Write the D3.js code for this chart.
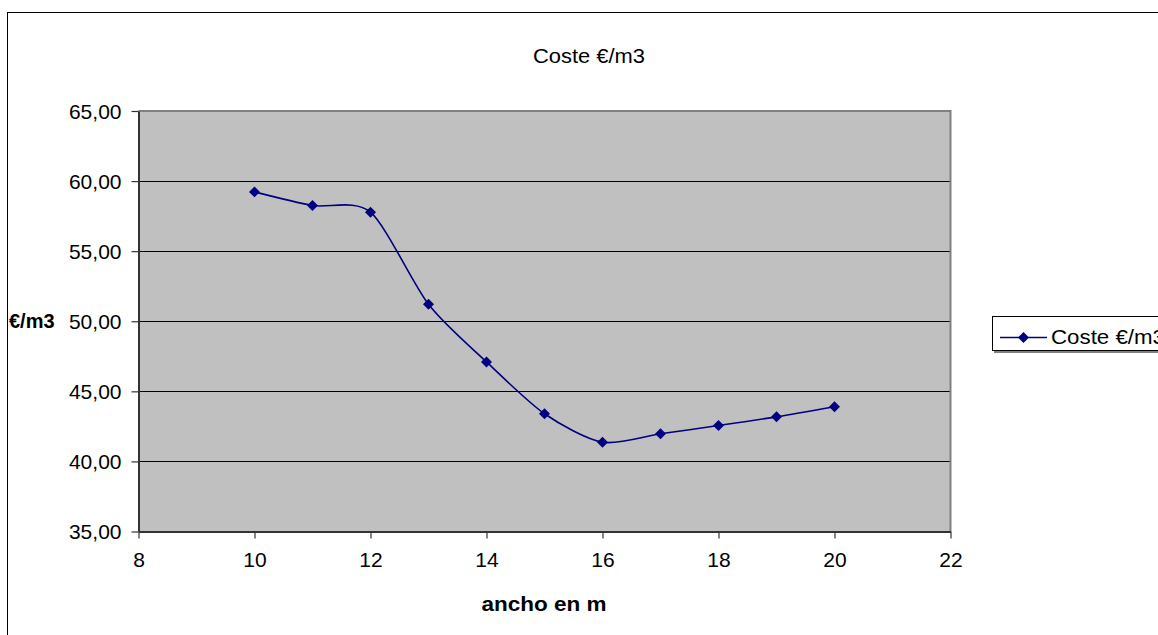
<!DOCTYPE html>
<html><head><meta charset="utf-8">
<script src="https://cdn.jsdelivr.net/npm/d3@7"></script>
<style>
html,body{margin:0;padding:0;background:#fff;overflow:hidden}
text{font-family:"Liberation Sans",Arial,sans-serif}
</style></head>
<body><svg id="c" width="1158" height="635"></svg>
<script>
const xValues = [10, 11, 12, 13, 14, 15, 16, 17, 18, 19, 20];
const costValues = [59.23, 58.26, 57.78, 51.21, 47.10, 43.40, 41.37, 41.97, 42.56, 43.18, 43.90];
const xTicks = [8, 10, 12, 14, 16, 18, 20, 22];
const yTicks = [35, 40, 45, 50, 55, 60, 65];
const chartTitle = "Coste €/m3";
const seriesName = "Coste €/m3";
const xTitle = "ancho en m";
const yTitle = "€/m3";

const svg = d3.select("#c");
const L = 138.5, R = 950.5, T = 111, B = 531.5;
const x = d3.scaleLinear().domain([8, 22]).range([L, R]);
const y = d3.scaleLinear().domain([35, 65]).range([B, T]);
const fmt = v => v.toFixed(2).replace(".", ",");

// outer border
svg.append("rect").attr("x", 7.5).attr("y", 12.5).attr("width", 1170).attr("height", 640)
  .attr("fill", "#fff").attr("stroke", "#000").attr("stroke-width", 1);

// title
svg.append("text").attr("x", 589).attr("y", 63).attr("text-anchor", "middle")
  .attr("font-size", 20).attr("textLength", 112).attr("lengthAdjust", "spacingAndGlyphs").text(chartTitle);

// plot bg
svg.append("rect").attr("x", L).attr("y", T).attr("width", R - L).attr("height", B - T).attr("fill", "#c0c0c0");

// gridlines
svg.append("g").selectAll("line").data(yTicks.filter(d => d > 35 && d < 65)).join("line")
  .attr("x1", L).attr("x2", R).attr("y1", d => Math.round(y(d)) + 0.5).attr("y2", d => Math.round(y(d)) + 0.5)
  .attr("stroke", "#000").attr("stroke-width", 1);

// plot border top/right
svg.append("path").attr("d", `M${L},${T}H${R}V${B}`).attr("fill", "none").attr("stroke", "#808080").attr("stroke-width", 2);

// axes
const yAxis = d3.axisLeft(y).tickValues(yTicks).tickFormat(fmt).tickSize(7).tickSizeOuter(0).tickPadding(10);
const gy = svg.append("g").attr("transform", `translate(${L},0)`).call(yAxis);
const xAxis = d3.axisBottom(x).tickValues(xTicks).tickFormat(d3.format("d")).tickSize(7).tickSizeOuter(0).tickPadding(14);
const gx = svg.append("g").attr("transform", `translate(0,${B})`).call(xAxis);
[gx, gy].forEach(g => {
  g.select(".domain").attr("stroke", "#333").attr("stroke-width", 2);
  g.selectAll(".tick line").attr("stroke", "#333").attr("stroke-width", 1.2);
  g.selectAll("text").attr("font-size", 21).attr("fill", "#000").attr("font-family", "Liberation Sans, Arial, sans-serif");
});
gx.selectAll("text").attr("dy", "0.71em");
gy.selectAll("text").attr("dy", "0.35em");

// axis titles
svg.append("text").attr("x", 9).attr("y", 328).attr("font-size", 20).attr("font-weight", "bold").text(yTitle);
svg.append("text").attr("x", 544).attr("y", 611).attr("text-anchor", "middle").attr("font-size", 21).attr("font-weight", "bold")
  .attr("textLength", 125).attr("lengthAdjust", "spacingAndGlyphs").text(xTitle);

// series
const pts = xValues.map((d, i) => [d, costValues[i]]);
const line = d3.line().x(d => x(d[0])).y(d => y(d[1])).curve(d3.curveCardinal.tension(0.2));
svg.append("path").datum(pts).attr("d", line).attr("fill", "none").attr("stroke", "#000080").attr("stroke-width", 1.6);
svg.append("g").selectAll("path").data(pts).join("path")
  .attr("d", d3.symbol().type(d3.symbolSquare).size(60)).attr("transform", d => `translate(${x(d[0])},${y(d[1])}) rotate(45)`)
  .attr("fill", "#000080");

// legend
const lg = svg.append("g");
lg.append("rect").attr("x", 994).attr("y", 319).attr("width", 200).attr("height", 34).attr("fill", "#808080");
lg.append("rect").attr("x", 992.5).attr("y", 316.5).attr("width", 200).attr("height", 34).attr("fill", "#fff").attr("stroke", "#000");
lg.append("line").attr("x1", 1000).attr("x2", 1047).attr("y1", 337.5).attr("y2", 337.5).attr("stroke", "#000080").attr("stroke-width", 1.6);
lg.append("path").attr("d", d3.symbol().type(d3.symbolSquare).size(60)).attr("transform", "translate(1023.5,337.5) rotate(45)").attr("fill", "#000080");
lg.append("text").attr("x", 1051).attr("y", 344).attr("font-size", 20).attr("textLength", 114).attr("lengthAdjust", "spacingAndGlyphs").text(seriesName);
</script></body></html>
